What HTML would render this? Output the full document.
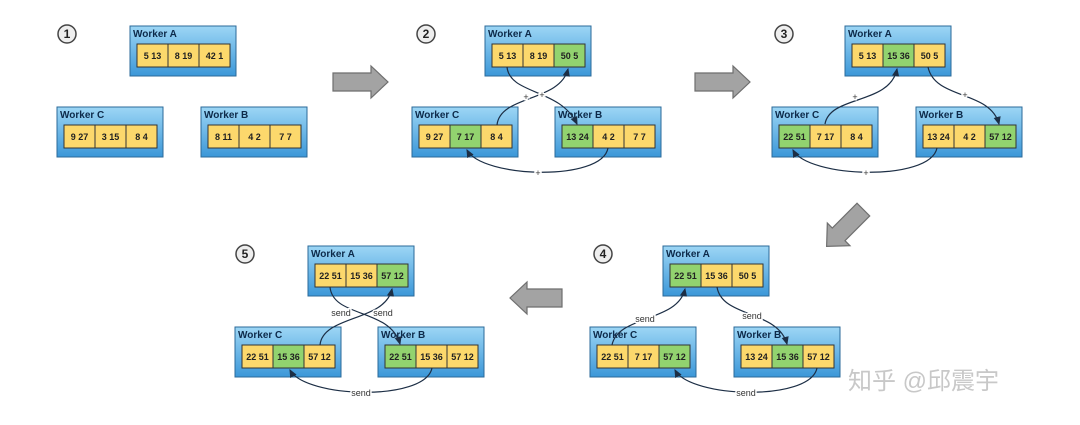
<!DOCTYPE html>
<html><head><meta charset="utf-8"><style>
html,body{margin:0;padding:0;background:#fff;}
svg{display:block;}
.t{font:bold 10px "Liberation Sans",sans-serif;fill:#0d2a4a;}
.c{font:bold 9px "Liberation Sans",sans-serif;fill:#222;text-anchor:middle;}
.y{fill:#fcd86c;stroke:#333;stroke-width:1;}
.g{fill:#92d36f;stroke:#333;stroke-width:1;}
.ln{fill:none;stroke:#1c2e45;stroke-width:1.2;}
.lb{font:9px "Liberation Sans",sans-serif;fill:#333;text-anchor:middle;stroke:#fff;stroke-width:3;paint-order:stroke;}
.num{font:bold 12px "Liberation Sans",sans-serif;text-anchor:middle;fill:#222;}
.ba{fill:#a3a3a3;stroke:#6e6e6e;stroke-width:1.2;}
</style></head><body>
<svg width="1080" height="425" viewBox="0 0 1080 425" xmlns="http://www.w3.org/2000/svg">
<defs>
<linearGradient id="bg" x1="0" y1="0" x2="0" y2="1">
<stop offset="0" stop-color="#9dd6f5"/><stop offset="1" stop-color="#3b97d8"/></linearGradient>
<marker id="ah" markerWidth="8" markerHeight="8" refX="6" refY="3" orient="auto"><path d="M0,0 L7,3 L0,6 Z" fill="#1c2e45"/></marker>
</defs>

<!-- circles -->
<g>
<circle cx="67" cy="34" r="9" fill="#eee" stroke="#444" stroke-width="1.5"/><text class="num" x="67" y="38">1</text>
<circle cx="426" cy="34" r="9" fill="#eee" stroke="#444" stroke-width="1.5"/><text class="num" x="426" y="38">2</text>
<circle cx="784" cy="34" r="9" fill="#eee" stroke="#444" stroke-width="1.5"/><text class="num" x="784" y="38">3</text>
<circle cx="603" cy="254" r="9" fill="#eee" stroke="#444" stroke-width="1.5"/><text class="num" x="603" y="258">4</text>
<circle cx="245" cy="254" r="9" fill="#eee" stroke="#444" stroke-width="1.5"/><text class="num" x="245" y="258">5</text>
</g>

<!-- block arrows -->
<polygon class="ba" points="333,73 371,73 371,66 388,82 371,98 371,91 333,91"/>
<polygon class="ba" points="695,73 733,73 733,66 750,82 733,98 733,91 695,91"/>
<polygon class="ba" points="562,289 527,289 527,282 510,298 527,314 527,307 562,307"/>
<g transform="translate(845,228) rotate(135)"><polygon class="ba" points="-26,-9 9,-9 9,-16 26,0 9,16 9,9 -26,9"/></g>

<!-- Panel 1 -->
<g transform="translate(130,26)"><rect width="106" height="50" fill="url(#bg)" stroke="#2b6a99"/><text class="t" x="3" y="11">Worker A</text>
<rect class="y" x="7" y="18" width="31" height="23"/><rect class="y" x="38" y="18" width="31" height="23"/><rect class="y" x="69" y="18" width="31" height="23"/>
<text class="c" x="22.5" y="33">5 13</text><text class="c" x="53.5" y="33">8 19</text><text class="c" x="84.5" y="33">42 1</text></g>
<g transform="translate(57,107)"><rect width="106" height="50" fill="url(#bg)" stroke="#2b6a99"/><text class="t" x="3" y="11">Worker C</text>
<rect class="y" x="7" y="18" width="31" height="23"/><rect class="y" x="38" y="18" width="31" height="23"/><rect class="y" x="69" y="18" width="31" height="23"/>
<text class="c" x="22.5" y="33">9 27</text><text class="c" x="53.5" y="33">3 15</text><text class="c" x="84.5" y="33">8 4</text></g>
<g transform="translate(201,107)"><rect width="106" height="50" fill="url(#bg)" stroke="#2b6a99"/><text class="t" x="3" y="11">Worker B</text>
<rect class="y" x="7" y="18" width="31" height="23"/><rect class="y" x="38" y="18" width="31" height="23"/><rect class="y" x="69" y="18" width="31" height="23"/>
<text class="c" x="22.5" y="33">8 11</text><text class="c" x="53.5" y="33">4 2</text><text class="c" x="84.5" y="33">7 7</text></g>

<!-- Panel 2 -->
<g transform="translate(485,26)"><rect width="106" height="50" fill="url(#bg)" stroke="#2b6a99"/><text class="t" x="3" y="11">Worker A</text>
<rect class="y" x="7" y="18" width="31" height="23"/><rect class="y" x="38" y="18" width="31" height="23"/><rect class="g" x="69" y="18" width="31" height="23"/>
<text class="c" x="22.5" y="33">5 13</text><text class="c" x="53.5" y="33">8 19</text><text class="c" x="84.5" y="33">50 5</text></g>
<g transform="translate(412,107)"><rect width="106" height="50" fill="url(#bg)" stroke="#2b6a99"/><text class="t" x="3" y="11">Worker C</text>
<rect class="y" x="7" y="18" width="31" height="23"/><rect class="g" x="38" y="18" width="31" height="23"/><rect class="y" x="69" y="18" width="31" height="23"/>
<text class="c" x="22.5" y="33">9 27</text><text class="c" x="53.5" y="33">7 17</text><text class="c" x="84.5" y="33">8 4</text></g>
<g transform="translate(555,107)"><rect width="106" height="50" fill="url(#bg)" stroke="#2b6a99"/><text class="t" x="3" y="11">Worker B</text>
<rect class="g" x="7" y="18" width="31" height="23"/><rect class="y" x="38" y="18" width="31" height="23"/><rect class="y" x="69" y="18" width="31" height="23"/>
<text class="c" x="22.5" y="33">13 24</text><text class="c" x="53.5" y="33">4 2</text><text class="c" x="84.5" y="33">7 7</text></g>
<path class="ln" d="M507,67 C510,95 560,88 577,124" marker-end="url(#ah)"/>
<path class="ln" d="M497,125 C500,95 560,102 568,69" marker-end="url(#ah)"/>
<path class="ln" d="M608,148 C602,182 482,178 467,150" marker-end="url(#ah)"/>
<text class="lb" x="526" y="100">+</text><text class="lb" x="542" y="98">+</text><text class="lb" x="538" y="176">+</text>

<!-- Panel 3 -->
<g transform="translate(845,26)"><rect width="106" height="50" fill="url(#bg)" stroke="#2b6a99"/><text class="t" x="3" y="11">Worker A</text>
<rect class="y" x="7" y="18" width="31" height="23"/><rect class="g" x="38" y="18" width="31" height="23"/><rect class="y" x="69" y="18" width="31" height="23"/>
<text class="c" x="22.5" y="33">5 13</text><text class="c" x="53.5" y="33">15 36</text><text class="c" x="84.5" y="33">50 5</text></g>
<g transform="translate(772,107)"><rect width="106" height="50" fill="url(#bg)" stroke="#2b6a99"/><text class="t" x="3" y="11">Worker C</text>
<rect class="g" x="7" y="18" width="31" height="23"/><rect class="y" x="38" y="18" width="31" height="23"/><rect class="y" x="69" y="18" width="31" height="23"/>
<text class="c" x="22.5" y="33">22 51</text><text class="c" x="53.5" y="33">7 17</text><text class="c" x="84.5" y="33">8 4</text></g>
<g transform="translate(916,107)"><rect width="106" height="50" fill="url(#bg)" stroke="#2b6a99"/><text class="t" x="3" y="11">Worker B</text>
<rect class="y" x="7" y="18" width="31" height="23"/><rect class="y" x="38" y="18" width="31" height="23"/><rect class="g" x="69" y="18" width="31" height="23"/>
<text class="c" x="22.5" y="33">13 24</text><text class="c" x="53.5" y="33">4 2</text><text class="c" x="84.5" y="33">57 12</text></g>
<path class="ln" d="M825,124 C830,95 890,105 897,69" marker-end="url(#ah)"/>
<path class="ln" d="M928,67 C935,100 990,90 999,124" marker-end="url(#ah)"/>
<path class="ln" d="M937,148 C930,182 808,178 793,150" marker-end="url(#ah)"/>
<text class="lb" x="855" y="100">+</text><text class="lb" x="965" y="98">+</text><text class="lb" x="866" y="176">+</text>

<!-- Panel 4 -->
<g transform="translate(663,246)"><rect width="106" height="50" fill="url(#bg)" stroke="#2b6a99"/><text class="t" x="3" y="11">Worker A</text>
<rect class="g" x="7" y="18" width="31" height="23"/><rect class="y" x="38" y="18" width="31" height="23"/><rect class="y" x="69" y="18" width="31" height="23"/>
<text class="c" x="22.5" y="33">22 51</text><text class="c" x="53.5" y="33">15 36</text><text class="c" x="84.5" y="33">50 5</text></g>
<g transform="translate(590,327)"><rect width="106" height="50" fill="url(#bg)" stroke="#2b6a99"/><text class="t" x="3" y="11">Worker C</text>
<rect class="y" x="7" y="18" width="31" height="23"/><rect class="y" x="38" y="18" width="31" height="23"/><rect class="g" x="69" y="18" width="31" height="23"/>
<text class="c" x="22.5" y="33">22 51</text><text class="c" x="53.5" y="33">7 17</text><text class="c" x="84.5" y="33">57 12</text></g>
<g transform="translate(734,327)"><rect width="106" height="50" fill="url(#bg)" stroke="#2b6a99"/><text class="t" x="3" y="11">Worker B</text>
<rect class="y" x="7" y="18" width="31" height="23"/><rect class="g" x="38" y="18" width="31" height="23"/><rect class="y" x="69" y="18" width="31" height="23"/>
<text class="c" x="22.5" y="33">13 24</text><text class="c" x="53.5" y="33">15 36</text><text class="c" x="84.5" y="33">57 12</text></g>
<path class="ln" d="M612,345 C618,315 678,322 685,289" marker-end="url(#ah)"/>
<path class="ln" d="M717,287 C722,318 778,310 787,344" marker-end="url(#ah)"/>
<path class="ln" d="M817,368 C810,402 690,398 675,370" marker-end="url(#ah)"/>
<text class="lb" x="645" y="322">send</text><text class="lb" x="752" y="319">send</text><text class="lb" x="746" y="396">send</text>

<!-- Panel 5 -->
<g transform="translate(308,246)"><rect width="106" height="50" fill="url(#bg)" stroke="#2b6a99"/><text class="t" x="3" y="11">Worker A</text>
<rect class="y" x="7" y="18" width="31" height="23"/><rect class="y" x="38" y="18" width="31" height="23"/><rect class="g" x="69" y="18" width="31" height="23"/>
<text class="c" x="22.5" y="33">22 51</text><text class="c" x="53.5" y="33">15 36</text><text class="c" x="84.5" y="33">57 12</text></g>
<g transform="translate(235,327)"><rect width="106" height="50" fill="url(#bg)" stroke="#2b6a99"/><text class="t" x="3" y="11">Worker C</text>
<rect class="y" x="7" y="18" width="31" height="23"/><rect class="g" x="38" y="18" width="31" height="23"/><rect class="y" x="69" y="18" width="31" height="23"/>
<text class="c" x="22.5" y="33">22 51</text><text class="c" x="53.5" y="33">15 36</text><text class="c" x="84.5" y="33">57 12</text></g>
<g transform="translate(378,327)"><rect width="106" height="50" fill="url(#bg)" stroke="#2b6a99"/><text class="t" x="3" y="11">Worker B</text>
<rect class="g" x="7" y="18" width="31" height="23"/><rect class="y" x="38" y="18" width="31" height="23"/><rect class="y" x="69" y="18" width="31" height="23"/>
<text class="c" x="22.5" y="33">22 51</text><text class="c" x="53.5" y="33">15 36</text><text class="c" x="84.5" y="33">57 12</text></g>
<path class="ln" d="M330,287 C333,318 390,308 400,344" marker-end="url(#ah)"/>
<path class="ln" d="M320,345 C323,315 385,322 392,289" marker-end="url(#ah)"/>
<path class="ln" d="M432,368 C425,402 305,398 290,370" marker-end="url(#ah)"/>
<text class="lb" x="341" y="316">send</text><text class="lb" x="383" y="316">send</text><text class="lb" x="361" y="396">send</text>

<!-- watermark -->
<text x="848" y="389" style="font:24px 'Liberation Sans','Noto Sans CJK SC',sans-serif;fill:#c8c8c8;">知乎 @邱震宇</text>
</svg>
</body></html>
